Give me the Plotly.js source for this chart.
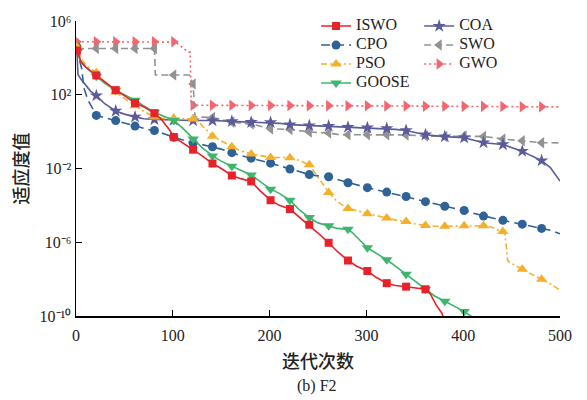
<!DOCTYPE html>
<html>
<head>
<meta charset="utf-8">
<script src="https://cdn.plot.ly/plotly-3.0.1.min.js"></script>
<style>html,body{margin:0;padding:0;background:#fff;}</style>
</head>
<body>
<div id="chart" style="width:587px;height:400px;"></div>
<script>
// Convergence curves on F2: best fitness (stored as log10) per iteration.
const iswoIter = [1,5,10,21,30,41,50,61,70,81,88,97,101,110,121,130,141,150,161,170,181,190,201,210,221,230,241,250,261,270,281,290,301,310,321,330,341,350,361,366,372,378,381,390];
const iswoLog  = [4.4,3.8,3.5,3.05,2.7,2.25,1.95,1.55,1.35,1.0,0.68,0.06,-0.29,-0.6,-0.98,-1.3,-1.73,-2.0,-2.38,-2.55,-2.7,-3.2,-3.72,-4.0,-4.2,-4.6,-5.05,-5.5,-6.03,-6.5,-6.99,-7.3,-7.56,-7.9,-8.22,-8.35,-8.41,-8.47,-8.55,-8.8,-9.4,-9.85,-10.3,-11.0];

const cpoIter = [1,3,6,8,12,15,21,30,41,50,61,70,81,90,101,110,121,130,141,150,161,170,181,190,201,210,221,230,241,250,261,270,281,290,301,310,321,330,341,350,361,370,381,390,401,410,421,430,441,450,461,470,481,490,500];
const cpoLog  = [4.6,4.0,3.4,2.4,1.75,1.45,0.88,0.75,0.6,0.45,0.3,0.2,0.06,-0.1,-0.31,-0.45,-0.62,-0.7,-0.82,-0.95,-1.14,-1.3,-1.44,-1.55,-1.71,-1.85,-2.03,-2.15,-2.33,-2.4,-2.45,-2.6,-2.77,-2.9,-3.04,-3.15,-3.28,-3.4,-3.52,-3.65,-3.8,-3.9,-4.05,-4.15,-4.28,-4.42,-4.58,-4.68,-4.81,-4.9,-5.02,-5.12,-5.25,-5.35,-5.54];

const psoIter = [1,5,10,21,30,41,50,61,70,81,90,101,110,121,128,141,150,161,170,181,190,201,210,221,230,241,261,270,281,290,301,310,321,330,341,350,361,370,381,390,401,410,421,430,441,443,446,450,461,470,481,490,500];
const psoLog  = [4.6,4.0,3.6,3.2,2.65,2.15,1.8,1.4,1.1,0.8,0.72,0.72,0.7,0.68,0.45,-0.25,-0.5,-0.82,-1.05,-1.21,-1.3,-1.4,-1.4,-1.42,-1.55,-1.8,-3.3,-3.8,-4.17,-4.3,-4.45,-4.55,-4.68,-4.8,-4.88,-5.0,-5.09,-5.13,-5.13,-5.12,-5.11,-5.11,-5.11,-5.2,-5.42,-5.5,-7.0,-7.15,-7.47,-7.7,-8.0,-8.25,-8.6];

const gooseIter = [1,5,10,21,30,41,50,61,70,81,90,101,110,121,130,141,150,161,170,181,190,201,210,221,230,241,250,261,270,281,286,301,310,321,330,341,350,361,370,381,390,401,409,415];
const gooseLog  = [4.4,3.8,3.5,3.0,2.6,2.25,2.0,1.7,1.4,1.05,0.85,0.6,0.2,-0.4,-0.85,-1.32,-1.6,-1.88,-2.1,-2.35,-2.7,-3.12,-3.35,-3.72,-4.2,-4.66,-4.95,-5.11,-5.25,-5.3,-5.5,-6.3,-6.6,-6.95,-7.3,-7.73,-8.1,-8.55,-8.9,-9.2,-9.45,-9.75,-10.05,-10.3];

const coaIter = [1,2,5,10,15,21,30,41,50,61,70,81,90,101,121,141,161,181,201,210,221,241,261,270,281,301,321,330,341,350,361,381,401,410,421,441,450,461,470,481,490,495,500];
const coaLog  = [4.35,3.1,2.85,2.5,2.2,1.95,1.5,1.12,0.95,0.8,0.7,0.66,0.64,0.63,0.6,0.6,0.56,0.51,0.5,0.45,0.38,0.33,0.3,0.26,0.24,0.21,0.17,0.12,0.06,-0.05,-0.17,-0.27,-0.33,-0.45,-0.6,-0.7,-0.85,-1.06,-1.3,-1.57,-1.95,-2.3,-2.68];

const swoIter = [1,21,41,61,81,82,101,117,121,123,141,161,181,190,201,221,241,261,270,281,301,321,341,361,381,401,421,430,441,461,481,500];
const swoLog  = [4.51,4.51,4.51,4.51,4.51,3.07,3.07,3.07,2.58,0.8,0.77,0.51,0.42,0.3,0.15,0.12,-0.02,-0.08,-0.15,-0.17,-0.17,-0.17,-0.18,-0.24,-0.26,-0.24,-0.26,-0.32,-0.4,-0.5,-0.6,-0.61];

const gwoIter = [1,21,41,61,81,101,103,116,118,119,121,141,161,181,201,221,241,261,281,301,321,341,361,381,401,421,441,461,481,500];
const gwoLog  = [4.88,4.88,4.88,4.88,4.88,4.88,4.85,4.31,4.31,1.43,1.43,1.43,1.43,1.42,1.42,1.42,1.41,1.41,1.4,1.4,1.39,1.39,1.38,1.38,1.37,1.37,1.36,1.35,1.35,1.34];

const yTickVals = [1e-10, 1e-6, 1e-2, 1e2, 1e6];
const yTickText = ['10\u207B\u00B9\u2070', '10\u207B\u2076', '10\u207B\u00B2', '10\u00B2', '10\u2076'];
const xTickVals = [0, 100, 200, 300, 400, 500];

// Markers sit on every 20th iteration starting from iteration 1.
const MARK_STEP = 20;

const series = [
  {name:'GWO',   it:gwoIter,   lg:gwoLog,   color:'#F26670', dash:'2px,3px',         symbol:'triangle-right', size:10, legend:'legend2'},
  {name:'SWO',   it:swoIter,   lg:swoLog,   color:'#929292', dash:'7px,4px',         symbol:'triangle-left',  size:10, legend:'legend2'},
  {name:'COA',   it:coaIter,   lg:coaLog,   color:'#5B5B9C', dash:'solid',           symbol:'star',           size:10, legend:'legend2'},
  {name:'CPO',   it:cpoIter,   lg:cpoLog,   color:'#2F6397', dash:'9px,5px',         symbol:'circle',         size:9,  legend:'legend'},
  {name:'PSO',   it:psoIter,   lg:psoLog,   color:'#F5B02A', dash:'6px,3px,2px,3px', symbol:'triangle-up',    size:10, legend:'legend'},
  {name:'GOOSE', it:gooseIter, lg:gooseLog, color:'#3DB56C', dash:'solid',           symbol:'triangle-down',  size:10, legend:'legend'},
  {name:'ISWO',  it:iswoIter,  lg:iswoLog,  color:'#E8222B', dash:'solid',           symbol:'square',         size:8,  legend:'legend'}
];

const traces = [];
series.forEach(s => {
  const y = s.lg.map(v => Math.pow(10, v));
  traces.push({
    x: s.it, y: y, type: 'scatter', mode: 'lines',
    line: {color: s.color, width: 1.6, dash: s.dash},
    legendgroup: s.name, showlegend: false, hoverinfo: 'skip'
  });
  const mx = [], my = [];
  s.it.forEach((v, i) => { if ((v - 1) % MARK_STEP === 0) { mx.push(v); my.push(y[i]); } });
  traces.push({
    x: mx, y: my, type: 'scatter', mode: 'markers',
    marker: {color: s.color, size: s.size, symbol: s.symbol, line: {width: 0}},
    legendgroup: s.name, showlegend: false
  });
});

// Legend entries: two columns (ISWO, CPO, PSO, GOOSE | COA, SWO, GWO)
const legendOrder = ['ISWO','CPO','PSO','GOOSE','COA','SWO','GWO'];
legendOrder.forEach(n => {
  const s = series.find(q => q.name === n);
  traces.push({
    x: [null], y: [null], type: 'scatter', mode: 'lines+markers',
    name: '<span style="font-size:16px">' + n + '</span>',
    line: {color: s.color, width: 1.6, dash: s.dash},
    marker: {color: s.color, size: s.size, symbol: s.symbol},
    legendgroup: n, showlegend: true, legend: s.legend
  });
});

const serif = 'Liberation Serif, Times New Roman, serif';
const cjk = 'Noto Sans CJK SC, sans-serif';

const legendBase = {
  orientation: 'v', y: 1.032, yanchor: 'top',
  bgcolor: 'rgba(0,0,0,0)', borderwidth: 0,
  font: {family: serif, size: 10.4, color: '#222'},
  itemwidth: 30, traceorder: 'normal', tracegroupgap: 0
};

const layout = {
  width: 587, height: 400,
  margin: {l: 76, r: 27, t: 15, b: 84},
  paper_bgcolor: '#fff', plot_bgcolor: '#fff',
  showlegend: true,
  legend: Object.assign({}, legendBase, {x: 0.496, xanchor: 'left'}),
  legend2: Object.assign({}, legendBase, {x: 0.709, xanchor: 'left'}),
  xaxis: {
    range: [0, 500], tickvals: xTickVals, ticks: 'inside', ticklen: 6, tickwidth: 1.2,
    tickcolor: '#000', showline: true, linecolor: '#000', linewidth: 1.5,
    showgrid: false, zeroline: false, ticklabelstandoff: 4,
    tickfont: {family: serif, size: 16, color: '#222'},
    title: {text: '迭代次数', font: {family: cjk, size: 18, color: '#222', weight: 500}, standoff: 12}
  },
  yaxis: {
    type: 'log', range: [-10, 6], tickvals: yTickVals, ticktext: yTickText,
    ticks: 'inside', ticklen: 6, tickwidth: 1.2, tickcolor: '#000',
    showline: true, linecolor: '#000', linewidth: 1.5,
    showgrid: false, zeroline: false,
    tickfont: {family: serif, size: 16, color: '#222'},
    title: {text: '适应度值', font: {family: cjk, size: 18, color: '#222', weight: 500}, standoff: 6}
  },
  annotations: [{
    text: '(b) F2', xref: 'paper', yref: 'paper', x: 0.498, y: -0.236,
    xanchor: 'center', yanchor: 'middle', showarrow: false,
    font: {family: serif, size: 16, color: '#222'}
  }]
};

Plotly.newPlot('chart', traces, layout, {displayModeBar: false, staticPlot: true});
</script>
</body>
</html>
